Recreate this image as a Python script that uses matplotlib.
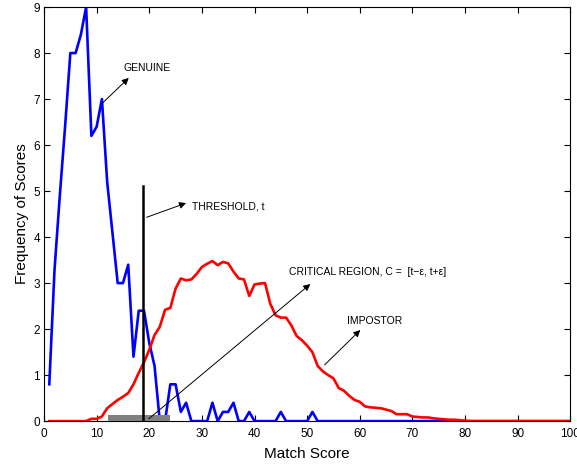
import numpy as np
import matplotlib.pyplot as plt

plt.rcParams['font.family'] = ['Liberation Sans', 'DejaVu Sans']

# match scores (x) and frequency values
scores = np.arange(1, 101)

genuine = [0.8, 3.3, 4.9, 6.4, 8.0, 8.0, 8.4, 9.0, 6.2, 6.4,
           7.0, 5.2, 4.1, 3.0, 3.0, 3.4, 1.4, 2.4, 2.4, 1.7,
           1.2, 0, 0, 0.8, 0.8, 0.2, 0.4, 0, 0, 0,
           0, 0.4, 0, 0.2, 0.2, 0.4, 0, 0, 0.2, 0,
           0, 0, 0, 0, 0.2, 0, 0, 0, 0, 0,
           0.2] + [0] * 49

impostor = [0, 0, 0, 0, 0, 0, 0, 0, 0.05, 0.05,
            0.1, 0.28, 0.37, 0.46, 0.53, 0.61, 0.8, 1.05, 1.28, 1.55,
            1.87, 2.05, 2.42, 2.46, 2.88, 3.1, 3.06, 3.08, 3.2, 3.35,
            3.42, 3.48, 3.39, 3.46, 3.43, 3.25, 3.1, 3.08, 2.72, 2.97,
            2.99, 3.0, 2.55, 2.3, 2.25, 2.25, 2.08, 1.85, 1.76, 1.64,
            1.5, 1.2, 1.08, 1.0, 0.93, 0.72, 0.66, 0.55, 0.46, 0.42,
            0.32, 0.3, 0.29, 0.28, 0.25, 0.22, 0.15, 0.15, 0.15, 0.1,
            0.09, 0.08, 0.08, 0.06, 0.05, 0.04, 0.03, 0.03, 0.02, 0.01] + [0] * 20

threshold = 18.8
threshold_height = 5.1
region = (12.1, 24.0)
region_height = 0.13

fig = plt.figure(figsize=(5.77, 4.70), dpi=100)
ax = fig.add_axes([0.0763, 0.104, 0.912, 0.881])

ax.plot(scores, genuine, color='blue', lw=1.9)
ax.plot(scores, impostor, color='red', lw=1.9)
ax.bar((region[0] + region[1]) / 2, region_height, width=region[1] - region[0],
       color='gray', zorder=3)
ax.plot([threshold, threshold], [0, threshold_height], color='black', lw=1.8, zorder=4)

arrow = dict(arrowstyle='-|>', color='black', lw=0.7, mutation_scale=10, shrinkA=0, shrinkB=0)
ax.annotate('', xy=(16.1, 7.46), xytext=(10.9, 6.89), arrowprops=arrow)
ax.text(15.1, 7.67, 'GENUINE', fontsize=7.5, va='center')
ax.annotate('', xy=(27.0, 4.74), xytext=(19.5, 4.43), arrowprops=arrow)
ax.text(28.2, 4.67, 'THRESHOLD, t', fontsize=7.5, va='center')
ax.annotate('', xy=(50.6, 2.98), xytext=(19.9, 0.05), arrowprops=arrow, zorder=5)
ax.text(46.6, 3.24, 'CRITICAL REGION, C =  [t\u2212\u03b5, t+\u03b5]', fontsize=7.5, va='center')
ax.annotate('', xy=(60.1, 1.98), xytext=(53.3, 1.22), arrowprops=arrow)
ax.text(57.6, 2.17, 'IMPOSTOR', fontsize=7.5, va='center')

ax.set_xlim(0, 100)
ax.set_ylim(0, 9)
ax.set_xticks(range(0, 101, 10))
ax.set_yticks(range(0, 10))
ax.tick_params(direction='in', top=True, right=True, labelsize=8.5, length=4)
ax.tick_params(axis='x', pad=5)
ax.tick_params(axis='y', pad=3)
ax.set_xlabel('Match Score', fontsize=11, labelpad=5)
ax.set_ylabel('Frequency of Scores', fontsize=11, labelpad=3)

fig.savefig('out.png', dpi=100)
